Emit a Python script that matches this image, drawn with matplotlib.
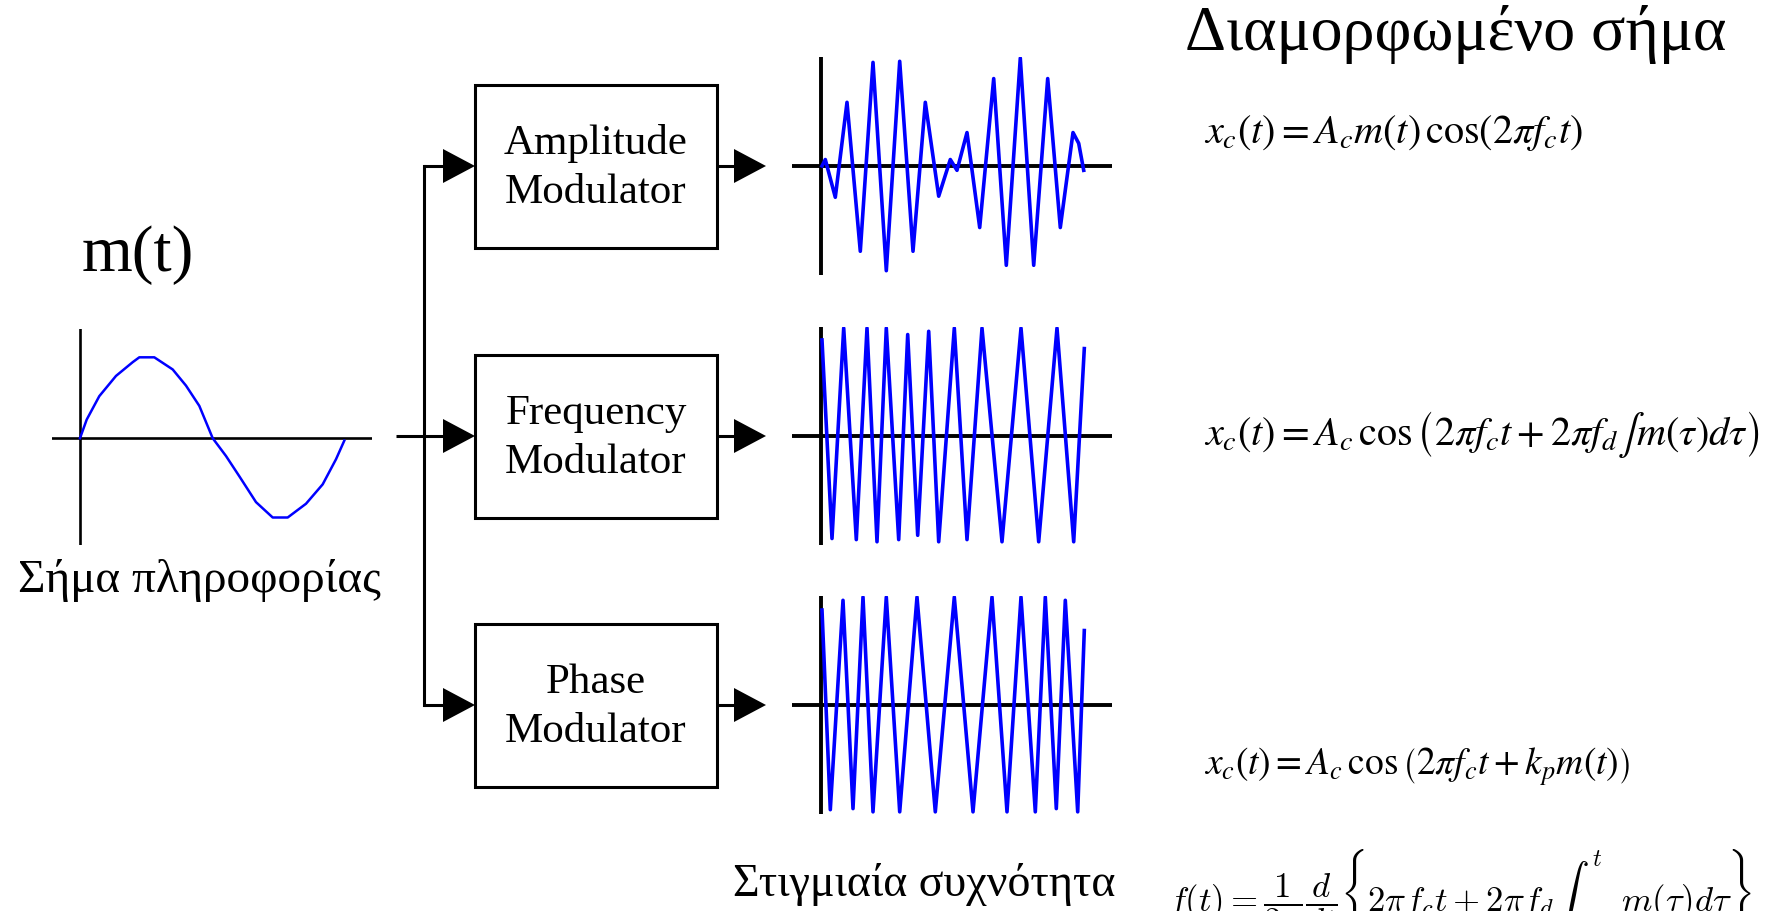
import matplotlib.pyplot as plt
from matplotlib.patches import Rectangle

plt.rcParams['font.family'] = ['Liberation Serif', 'DejaVu Serif']
plt.rcParams['mathtext.fontset'] = 'stix'

W, H = 1773, 911

# message signal m(t) (t in samples, value normalised)
msg_t = [0, 6.7, 19.3, 36, 52.7, 59.3, 74.3, 92.7, 106, 119.3, 132.7, 146,
         159.3, 176, 192.7, 207.7, 226, 242.7, 256, 264.3]
msg_v = [0, 0.23, 0.52, 0.77, 0.94, 1.0, 1.0, 0.85, 0.65, 0.40, 0, -0.22,
         -0.47, -0.79, -0.98, -0.98, -0.81, -0.57, -0.26, -0.03]

# AM output: extrema of the modulated carrier
am_t = [1, 4.3, 14.3, 26, 39.3, 52, 65.3, 78.7, 92, 104.3, 117.7, 129.3, 136,
        146, 158.7, 172.7, 185.3, 199.3, 212.7, 226.7, 239.3, 252, 257.7, 262.7]
am_v = [0, 0.06, -0.29, 0.59, -0.79, 0.96, -0.97, 0.97, -0.79, 0.59, -0.28, 0.06,
        -0.04, 0.31, -0.57, 0.81, -0.92, 1.0, -0.92, 0.81, -0.57, 0.31, 0.21, -0.04]

# FM output
fm_t = [1, 11, 22.7, 35.3, 46, 56, 65.3, 77.7, 86.7, 96.7, 107.7, 117.7, 133.3,
        146, 161, 181, 200, 217.7, 236, 252.7, 263.3]
fm_v = [0.89, -0.95, 1.0, -0.96, 1.0, -0.98, 1.0, -0.96, 0.94, -0.92, 0.97, -0.98,
        1.0, -0.96, 1.0, -0.98, 1.0, -0.98, 1.0, -0.98, 0.81]

# PM output
pm_t = [1, 9.3, 22, 32, 42, 52, 65.3, 78.7, 96, 114.3, 133.3, 152, 171, 186,
        200, 214.3, 224.3, 235.3, 244.3, 256.7, 263.3]
pm_v = [0.88, -0.97, 0.97, -0.96, 1.0, -0.99, 1.0, -0.99, 1.0, -0.99, 1.0, -0.99,
        1.0, -0.99, 1.0, -0.99, 1.0, -0.96, 0.97, -0.99, 0.69]

box_labels = ['Amplitude\nModulator', 'Frequency\nModulator', 'Phase\nModulator']
formulas = [r'$x_c(t) = A_c m(t)\,\cos(2\pi f_c t)$',
            r'$x_c(t) = A_c\,\cos\left(2\pi f_c t + 2\pi f_d \int m(\tau)d\tau\right)$',
            r'$x_c(t) = A_c\,\cos\left(2\pi f_c t + k_p m(t)\right)$']
formula_size = [29, 29, 27]
branch_y = [166, 436, 705]
formula_y = [133, 435, 767]

fig = plt.figure(figsize=(W / 100, H / 100), dpi=100)
ax = fig.add_axes([0, 0, 1, 1])
ax.set_xlim(0, W)
ax.set_ylim(H, 0)
ax.axis('off')

LW = 2.2


def arrow(x0, x1, y):
    ax.plot([x0, x1 - 30], [y, y], color='black', lw=LW, solid_capstyle='butt')
    ax.fill([x1 - 32, x1, x1 - 32], [y - 17, y, y + 17], color='black', lw=0)


def wave_axes(xpx, ypx, half_h, xlim, ylim):
    # xpx: (left, right) in pixels, ypx: axis line position in pixels
    left, right = xpx
    wa = fig.add_axes([left / W, (H - ypx - half_h[1]) / H,
                       (right - left) / W, (half_h[0] + half_h[1]) / H])
    wa.set_xlim(*xlim)
    wa.set_ylim(*ylim)
    wa.set_facecolor('none')
    wa.axis('off')
    return wa


# message plot
ma = wave_axes((52, 372), 436, (107, 109), (-28, 292), (-1.32, 1.35))
ma.axhline(0, color='black', lw=1.9)
ma.axvline(0, color='black', lw=1.9)
ma.plot(msg_t, msg_v, color='#0000ff', lw=1.8)

# modulated outputs
for y, (tt, vv) in zip(branch_y, [(am_t, am_v), (fm_t, fm_v), (pm_t, pm_v)]):
    wa = wave_axes((792, 1112), y, (109, 109), (-29, 291), (-1.01, 1.01))
    wa.axhline(0, color='black', lw=2.8)
    wa.axvline(0, color='black', lw=2.8)
    wa.plot(tt, vv, color='#0000ff', lw=2.6, solid_joinstyle='round')

# branching lines and boxes
arrow(396, 475, 436)
ax.plot([424, 424], [branch_y[0], branch_y[2]], color='black', lw=LW)
for y, lab in zip(branch_y, box_labels):
    if y != 436:
        arrow(424, 475, y)
    ax.add_patch(Rectangle((475, y - 81), 242, 163, fill=False, ec='black', lw=LW))
    ax.text(596, y + 2, lab, ha='center', va='center', fontsize=31, linespacing=1.36)
    arrow(717, 766, y)

for y, f, s in zip(formula_y, formulas, formula_size):
    ax.text(1204, y, f, ha='left', va='center', fontsize=s)

ax.text(1185, 35, 'Διαμορφωμένο σήμα', ha='left', va='center', fontsize=46)
ax.text(82, 255, 'm(t)', ha='left', va='center', fontsize=47)
ax.text(199, 580, 'Σήμα πληροφορίας', ha='center', va='center', fontsize=34)
ax.text(733, 884, 'Στιγμιαία συχνότητα', ha='left', va='center', fontsize=33)
ax.text(1168, 911,
        r'$f(t)=\dfrac{1}{2\pi}\dfrac{d}{dt}\left\{2\pi f_c t+2\pi f_d\int^{t}\ \ m(\tau)d\tau\right\}$',
        ha='left', va='baseline', fontsize=25, math_fontfamily='cm')

fig.savefig('out.png', dpi=100, facecolor='white')
